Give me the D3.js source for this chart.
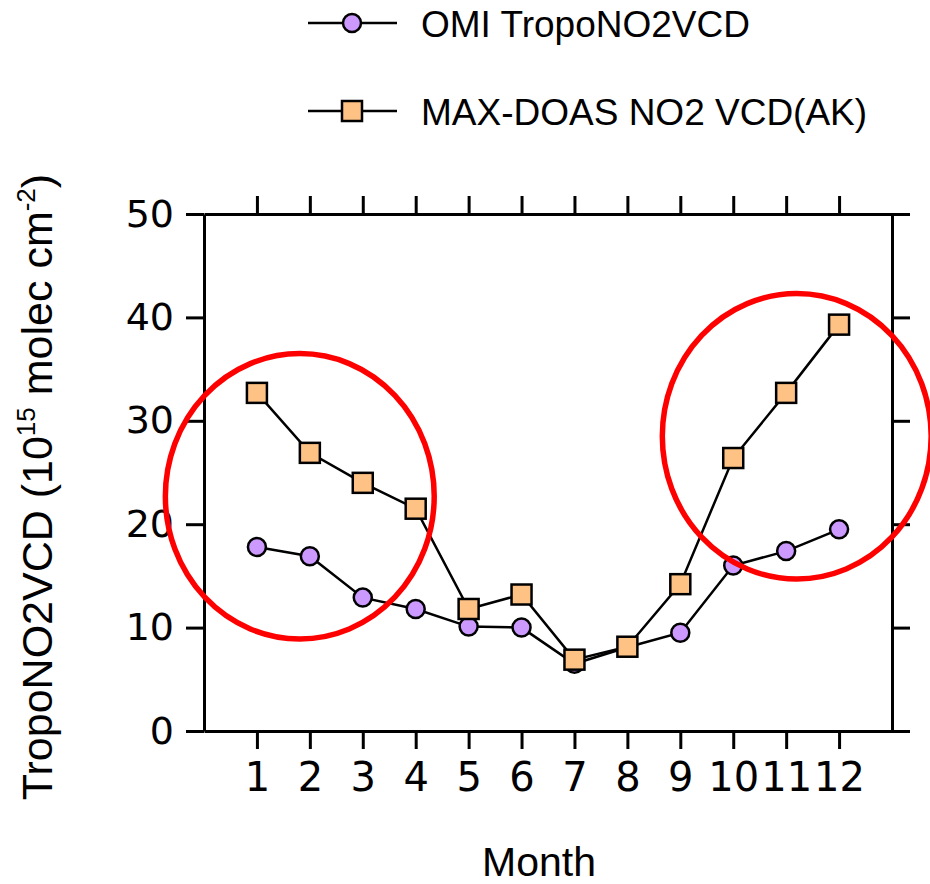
<!DOCTYPE html>
<html>
<head>
<meta charset="utf-8">
<script src="https://cdn.jsdelivr.net/npm/d3@7"></script>
<style>
  body { margin: 0; background: #fff; }
  svg { display: block; }
</style>
</head>
<body>
<div id="chart"></div>
<script>
// data
const months = [1, 2, 3, 4, 5, 6, 7, 8, 9, 10, 11, 12]
const omiVcd = [17.8, 16.9, 12.9, 11.8, 10.1, 10.0, 6.5, 8.1, 9.5, 16.0, 17.4, 19.5]
const maxDoasVcd = [32.7, 26.9, 24.0, 21.5, 11.8, 13.2, 6.9, 8.15, 14.2, 26.4, 32.7, 39.3]
const yTicks = [0, 10, 20, 30, 40, 50]
// red highlight ellipses, in data units (month, value)
const highlightCx = [1.81, 11.2]
const highlightCy = [22.7, 28.5]
const highlightRx = [2.54, 2.54]
const highlightRy = [13.8, 13.8]

const width = 930
const height = 884

const svg = d3.select("#chart")
    .append("svg")
    .attr("width", width)
    .attr("height", height)

const x = d3.scaleLinear().domain([0, 13]).range([204, 892])
const y = d3.scaleLinear().domain([0, 50]).range([731, 214])

const omi = months.map((m, i) => ({ month: m, value: omiVcd[i] }))
const doas = months.map((m, i) => ({ month: m, value: maxDoasVcd[i] }))

// axes
const styleAxis = function (g) {
    g.selectAll(".domain").attr("stroke", "#000").attr("stroke-width", 3)
    g.selectAll(".tick line").attr("stroke", "#000").attr("stroke-width", 3)
}

svg.append("g")
    .attr("transform", `translate(${x(0)},0)`)
    .call(d3.axisLeft(y).tickValues(yTicks).tickSize(18).tickSizeOuter(0).tickPadding(12))
    .call(styleAxis)
    .call(g => g.selectAll("text")
        .attr("font-family", "DejaVu Sans, Verdana, sans-serif")
        .attr("font-size", 38)
        .attr("fill", "#000"))

svg.append("g")
    .attr("transform", `translate(${x(13)},0)`)
    .call(d3.axisRight(y).tickValues(yTicks).tickSize(18).tickSizeOuter(0).tickFormat(""))
    .call(styleAxis)

svg.append("g")
    .attr("transform", `translate(0,${y(0)})`)
    .call(d3.axisBottom(x).tickValues(months).tickSize(18).tickSizeOuter(0).tickPadding(14))
    .call(styleAxis)
    .call(g => g.selectAll("text")
        .attr("font-family", "DejaVu Sans, Verdana, sans-serif")
        .attr("font-size", 40)
        .attr("fill", "#000"))

svg.append("g")
    .attr("transform", `translate(0,${y(50)})`)
    .call(d3.axisTop(x).tickValues(months).tickSize(18).tickSizeOuter(0).tickFormat(""))
    .call(styleAxis)

// axis titles
svg.append("text")
    .attr("x", 539)
    .attr("y", 876)
    .attr("text-anchor", "middle")
    .attr("font-family", "Liberation Sans, Arial, sans-serif")
    .attr("font-size", 41)
    .text("Month")

const yTitle = svg.append("text")
    .attr("transform", "translate(52,487) rotate(-90)")
    .attr("text-anchor", "middle")
    .attr("font-family", "Liberation Sans, Arial, sans-serif")
    .attr("font-size", 43)
yTitle.append("tspan").text("TropoNO2VCD (10")
yTitle.append("tspan").attr("font-size", 26).attr("dy", -17).text("15")
yTitle.append("tspan").attr("dy", 17).text(" molec cm")
yTitle.append("tspan").attr("font-size", 26).attr("dy", -17).text("-2")
yTitle.append("tspan").attr("dy", 17).text(")")

// series
const line = d3.line().x(d => x(d.month)).y(d => y(d.value))

svg.append("path")
    .datum(doas)
    .attr("d", line)
    .attr("fill", "none")
    .attr("stroke", "#000")
    .attr("stroke-width", 2.5)

svg.append("path")
    .datum(omi)
    .attr("d", line)
    .attr("fill", "none")
    .attr("stroke", "#000")
    .attr("stroke-width", 2.5)

svg.append("g")
    .selectAll("circle")
    .data(omi)
    .enter()
    .append("circle")
    .attr("cx", d => x(d.month))
    .attr("cy", d => y(d.value))
    .attr("r", 9)
    .attr("fill", "#cc99ff")
    .attr("stroke", "#000")
    .attr("stroke-width", 2.5)

const sq = 20
svg.append("g")
    .selectAll("rect")
    .data(doas)
    .enter()
    .append("rect")
    .attr("x", d => x(d.month) - sq / 2)
    .attr("y", d => y(d.value) - sq / 2)
    .attr("width", sq)
    .attr("height", sq)
    .attr("fill", "#ffc285")
    .attr("stroke", "#000")
    .attr("stroke-width", 2.5)

// red ellipses
svg.append("g")
    .selectAll("ellipse")
    .data(highlightCx)
    .enter()
    .append("ellipse")
    .attr("cx", (d, i) => x(d))
    .attr("cy", (d, i) => y(highlightCy[i]))
    .attr("rx", (d, i) => x(highlightRx[i]) - x(0))
    .attr("ry", (d, i) => y(0) - y(highlightRy[i]))
    .attr("fill", "none")
    .attr("stroke", "#ff0000")
    .attr("stroke-width", 5.5)

// legend
const legend = svg.append("g")
    .attr("font-family", "Liberation Sans, Arial, sans-serif")
    .attr("font-size", 37)

const leg1 = legend.append("g").attr("transform", "translate(0,23)")
leg1.append("line").attr("x1", 308).attr("x2", 397).attr("stroke", "#000").attr("stroke-width", 2.5)
leg1.append("circle").attr("cx", 352).attr("r", 9).attr("fill", "#cc99ff").attr("stroke", "#000").attr("stroke-width", 2.5)
leg1.append("text").attr("x", 421).attr("y", 14).text("OMI TropoNO2VCD")

const leg2 = legend.append("g").attr("transform", "translate(0,111)")
leg2.append("line").attr("x1", 308).attr("x2", 397).attr("stroke", "#000").attr("stroke-width", 2.5)
leg2.append("rect").attr("x", 352 - sq / 2).attr("y", -sq / 2).attr("width", sq).attr("height", sq)
    .attr("fill", "#ffc285").attr("stroke", "#000").attr("stroke-width", 2.5)
leg2.append("text").attr("x", 421).attr("y", 14).text("MAX-DOAS NO2 VCD(AK)")
</script>
</body>
</html>
